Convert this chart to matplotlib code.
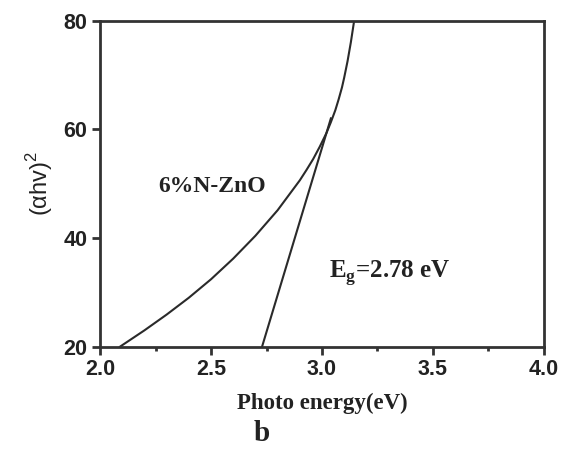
import matplotlib
matplotlib.use("Agg")
import matplotlib.pyplot as plt
from matplotlib.ticker import MultipleLocator, FormatStrFormatter

# Absorption curve (photon energy vs (alpha h v)^2)
energy = [2.09, 2.20, 2.30, 2.40, 2.50, 2.60, 2.70, 2.80, 2.90, 2.93, 2.96, 2.99,
          3.02, 3.04, 3.06, 3.075, 3.09, 3.10, 3.115, 3.13, 3.145]
absorb = [20.0, 23.0, 25.9, 29.0, 32.4, 36.2, 40.4, 45.1, 50.6, 52.5, 54.5, 56.8,
          59.3, 61.3, 63.5, 65.5, 67.7, 69.5, 72.5, 76.0, 80.0]

# Linear extrapolation for the band gap
fit_energy = [2.73, 3.04]
fit_absorb = [20.0, 62.0]

sample_label = "6%N-ZnO"
gap_label = "2.78 eV"

fig = plt.figure(figsize=(5.66, 4.5), dpi=100)
ax = fig.add_axes([0.1767, 0.2296, 0.7844, 0.7248])

ax.plot(energy, absorb, color="#2a2a2a", lw=1.5, solid_joinstyle="round")
ax.plot(fit_energy, fit_absorb, color="#2a2a2a", lw=1.5)

ax.set_xlim(2.0, 4.0)
ax.set_ylim(20, 80)
ax.xaxis.set_major_locator(MultipleLocator(0.5))
ax.xaxis.set_minor_locator(MultipleLocator(0.25))
ax.xaxis.set_major_formatter(FormatStrFormatter("%.1f"))
ax.yaxis.set_major_locator(MultipleLocator(20))

for s in ax.spines.values():
    s.set_linewidth(2.0)
    s.set_color("#333333")

ax.tick_params(which="major", direction="out", length=6, width=2, color="#333333",
               top=False, right=False, pad=3)
ax.tick_params(which="minor", axis="x", direction="out", length=3, width=2, color="#333333")
ax.tick_params(axis="y", which="minor", left=False)

for lab in ax.get_xticklabels() + ax.get_yticklabels():
    lab.set_fontfamily("Liberation Sans")
    lab.set_fontweight("bold")
    lab.set_fontsize(15.5)
    lab.set_color("#222222")

ax.set_xlabel("Photo energy(eV)", fontfamily="Liberation Serif", fontweight="bold",
              fontsize=16.5, color="#222222", labelpad=9)
ax.set_ylabel(r"($\mathregular{\alpha}$hv)$^\mathregular{2}$", fontfamily="Liberation Sans",
              fontsize=17, color="#222222", labelpad=6)

ax.text(2.505, 49.5, sample_label, fontfamily="Liberation Serif", fontweight="bold",
        fontsize=17, color="#222222", ha="center", va="center")
ax.text(3.306, 33.6, r"E$_\mathregular{g}$=" + gap_label, fontfamily="Liberation Serif",
        fontweight="bold", fontsize=18, color="#222222", ha="center", va="center")

fig.text(0.463, 0.036, "b", fontfamily="Liberation Serif", fontweight="bold",
         fontsize=21, color="#222222", ha="center", va="center")

fig.savefig("out.png", dpi=100)
